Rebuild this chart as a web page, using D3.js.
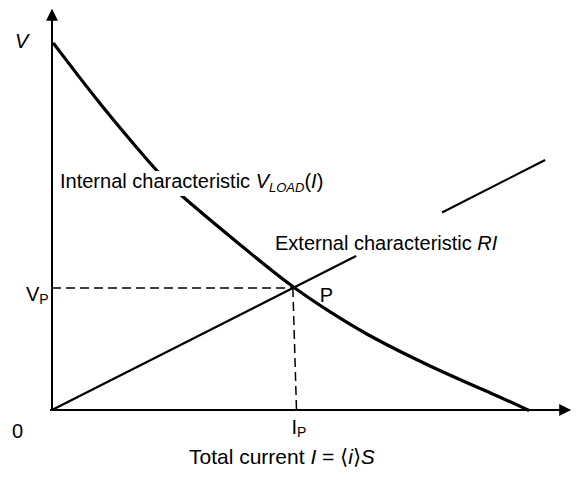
<!DOCTYPE html>
<html>
<head>
<meta charset="utf-8">
<script src="https://cdn.jsdelivr.net/npm/d3@7"></script>
<style>
  body { margin: 0; background: #fff; }
  text { font-family: "Liberation Sans", Arial, sans-serif; fill: #000; }
</style>
</head>
<body>
<svg class="chart" width="584" height="482"></svg>
<script>
// internal characteristic V_LOAD(I)
var loadI = [0.04, 0.93, 1.95, 2.37, 3.49, 4.65, 5.37, 6.0, 7.3, 8.59, 9.19];
var loadV = [9.15, 7.63, 6.08, 5.48, 4.28, 3.05, 2.45, 1.93, 1.08, 0.36, 0];
// external characteristic RI, broken where its label sits
var externalSegments = [
  [[0, 0], [5.87, 3.85]],
  [[7.53, 4.94], [9.52, 6.25]]
];
var pointP = [4.65, 3.05];
var footIP = 4.72;
var axisMax = [10, 10];

var svg = d3.select(".chart"),
  margin = { left: 52, right: 14, top: 10, bottom: 72 },
  width = +svg.attr("width"),
  height = +svg.attr("height");

var x = d3.scaleLinear().domain([0, axisMax[0]]).range([margin.left, width - margin.right]);
var y = d3.scaleLinear().domain([0, axisMax[1]]).range([height - margin.bottom, margin.top]);

var line = d3
  .line()
  .x(function(d) { return x(d[0]); })
  .y(function(d) { return y(d[1]); });

// axes with arrow heads
svg.append("defs")
  .append("marker")
  .attr("id", "arrow")
  .attr("viewBox", "0 0 10 10")
  .attr("refX", 9)
  .attr("refY", 5)
  .attr("markerWidth", 12)
  .attr("markerHeight", 12)
  .attr("markerUnits", "userSpaceOnUse")
  .attr("orient", "auto")
  .append("path")
  .attr("d", "M0,0L10,5L0,10Z")
  .attr("fill", "#000");

svg.append("line")
  .attr("x1", x(0) - 2).attr("y1", y(0))
  .attr("x2", x(axisMax[0])).attr("y2", y(0))
  .attr("stroke", "#000").attr("stroke-width", 2)
  .attr("marker-end", "url(#arrow)");

svg.append("line")
  .attr("x1", x(0)).attr("y1", y(0) + 1)
  .attr("x2", x(0)).attr("y2", y(axisMax[1]))
  .attr("stroke", "#000").attr("stroke-width", 2)
  .attr("marker-end", "url(#arrow)");

// dashed guides to P
svg.append("path")
  .datum([[0, pointP[1]], pointP])
  .attr("d", line)
  .attr("fill", "none").attr("stroke", "#000")
  .attr("stroke-width", 1.5).attr("stroke-dasharray", "9,5");

svg.append("path")
  .datum([pointP, [footIP, 0]])
  .attr("d", line)
  .attr("fill", "none").attr("stroke", "#000")
  .attr("stroke-width", 1.5).attr("stroke-dasharray", "9,5");

// external characteristic
externalSegments.forEach(function(seg) {
  svg.append("path")
    .datum(seg)
    .attr("d", line)
    .attr("fill", "none")
    .attr("stroke", "#000")
    .attr("stroke-width", 2.2);
});

// internal characteristic
var loadData = loadI.map(function(v, i) { return [v, loadV[i]]; });
svg.append("path")
  .datum(loadData)
  .attr("d", line.curve(d3.curveBasis))
  .attr("fill", "none")
  .attr("stroke", "#000")
  .attr("stroke-width", 3.2)
  .attr("stroke-linecap", "round");

// label for internal curve, with white box hiding the curve behind it
var lblBox = svg.append("rect").attr("fill", "#fff");
var internal = svg.append("text")
  .attr("x", 60).attr("y", 188)
  .attr("font-size", 20);
internal.append("tspan").text("Internal characteristic ");
internal.append("tspan").attr("font-style", "italic").text("V");
internal.append("tspan").attr("font-style", "italic").attr("font-size", 13)
  .attr("dy", 4).text("LOAD");
internal.append("tspan").attr("dy", -4).text("(");
internal.append("tspan").attr("font-style", "italic").text("I");
internal.append("tspan").text(")");
var bb = internal.node().getBBox();
lblBox.attr("x", bb.x - 2).attr("y", bb.y + 1)
  .attr("width", bb.width + 4).attr("height", bb.height);

var external = svg.append("text")
  .attr("x", 275).attr("y", 250)
  .attr("font-size", 20);
external.append("tspan").text("External characteristic ");
external.append("tspan").attr("font-style", "italic").text("RI");

svg.append("text")
  .attr("x", x(pointP[0]) + 27).attr("y", y(pointP[1]) + 14)
  .attr("font-size", 20).text("P");

// axis labels
svg.append("text").attr("x", 15).attr("y", 48)
  .attr("font-size", 20).attr("font-style", "italic").text("V");

svg.append("text").attr("x", 12).attr("y", 438)
  .attr("font-size", 20).text("0");

var vp = svg.append("text").attr("x", 26).attr("y", y(pointP[1]) + 13)
  .attr("font-size", 20);
vp.append("tspan").text("V");
vp.append("tspan").attr("font-size", 14).attr("dy", 3).text("P");

var ip = svg.append("text").attr("x", x(footIP) - 5).attr("y", 434)
  .attr("font-size", 20);
ip.append("tspan").text("I");
ip.append("tspan").attr("font-size", 14).attr("dy", 3).text("P");

var title = svg.append("text").attr("x", 189).attr("y", 464)
  .attr("font-size", 21);
title.append("tspan").text("Total current ");
title.append("tspan").attr("font-style", "italic").text("I");
title.append("tspan").text(" = \u27E8");
title.append("tspan").attr("font-style", "italic").text("i");
title.append("tspan").text("\u27E9");
title.append("tspan").attr("font-style", "italic").text("S");
</script>
</body>
</html>
